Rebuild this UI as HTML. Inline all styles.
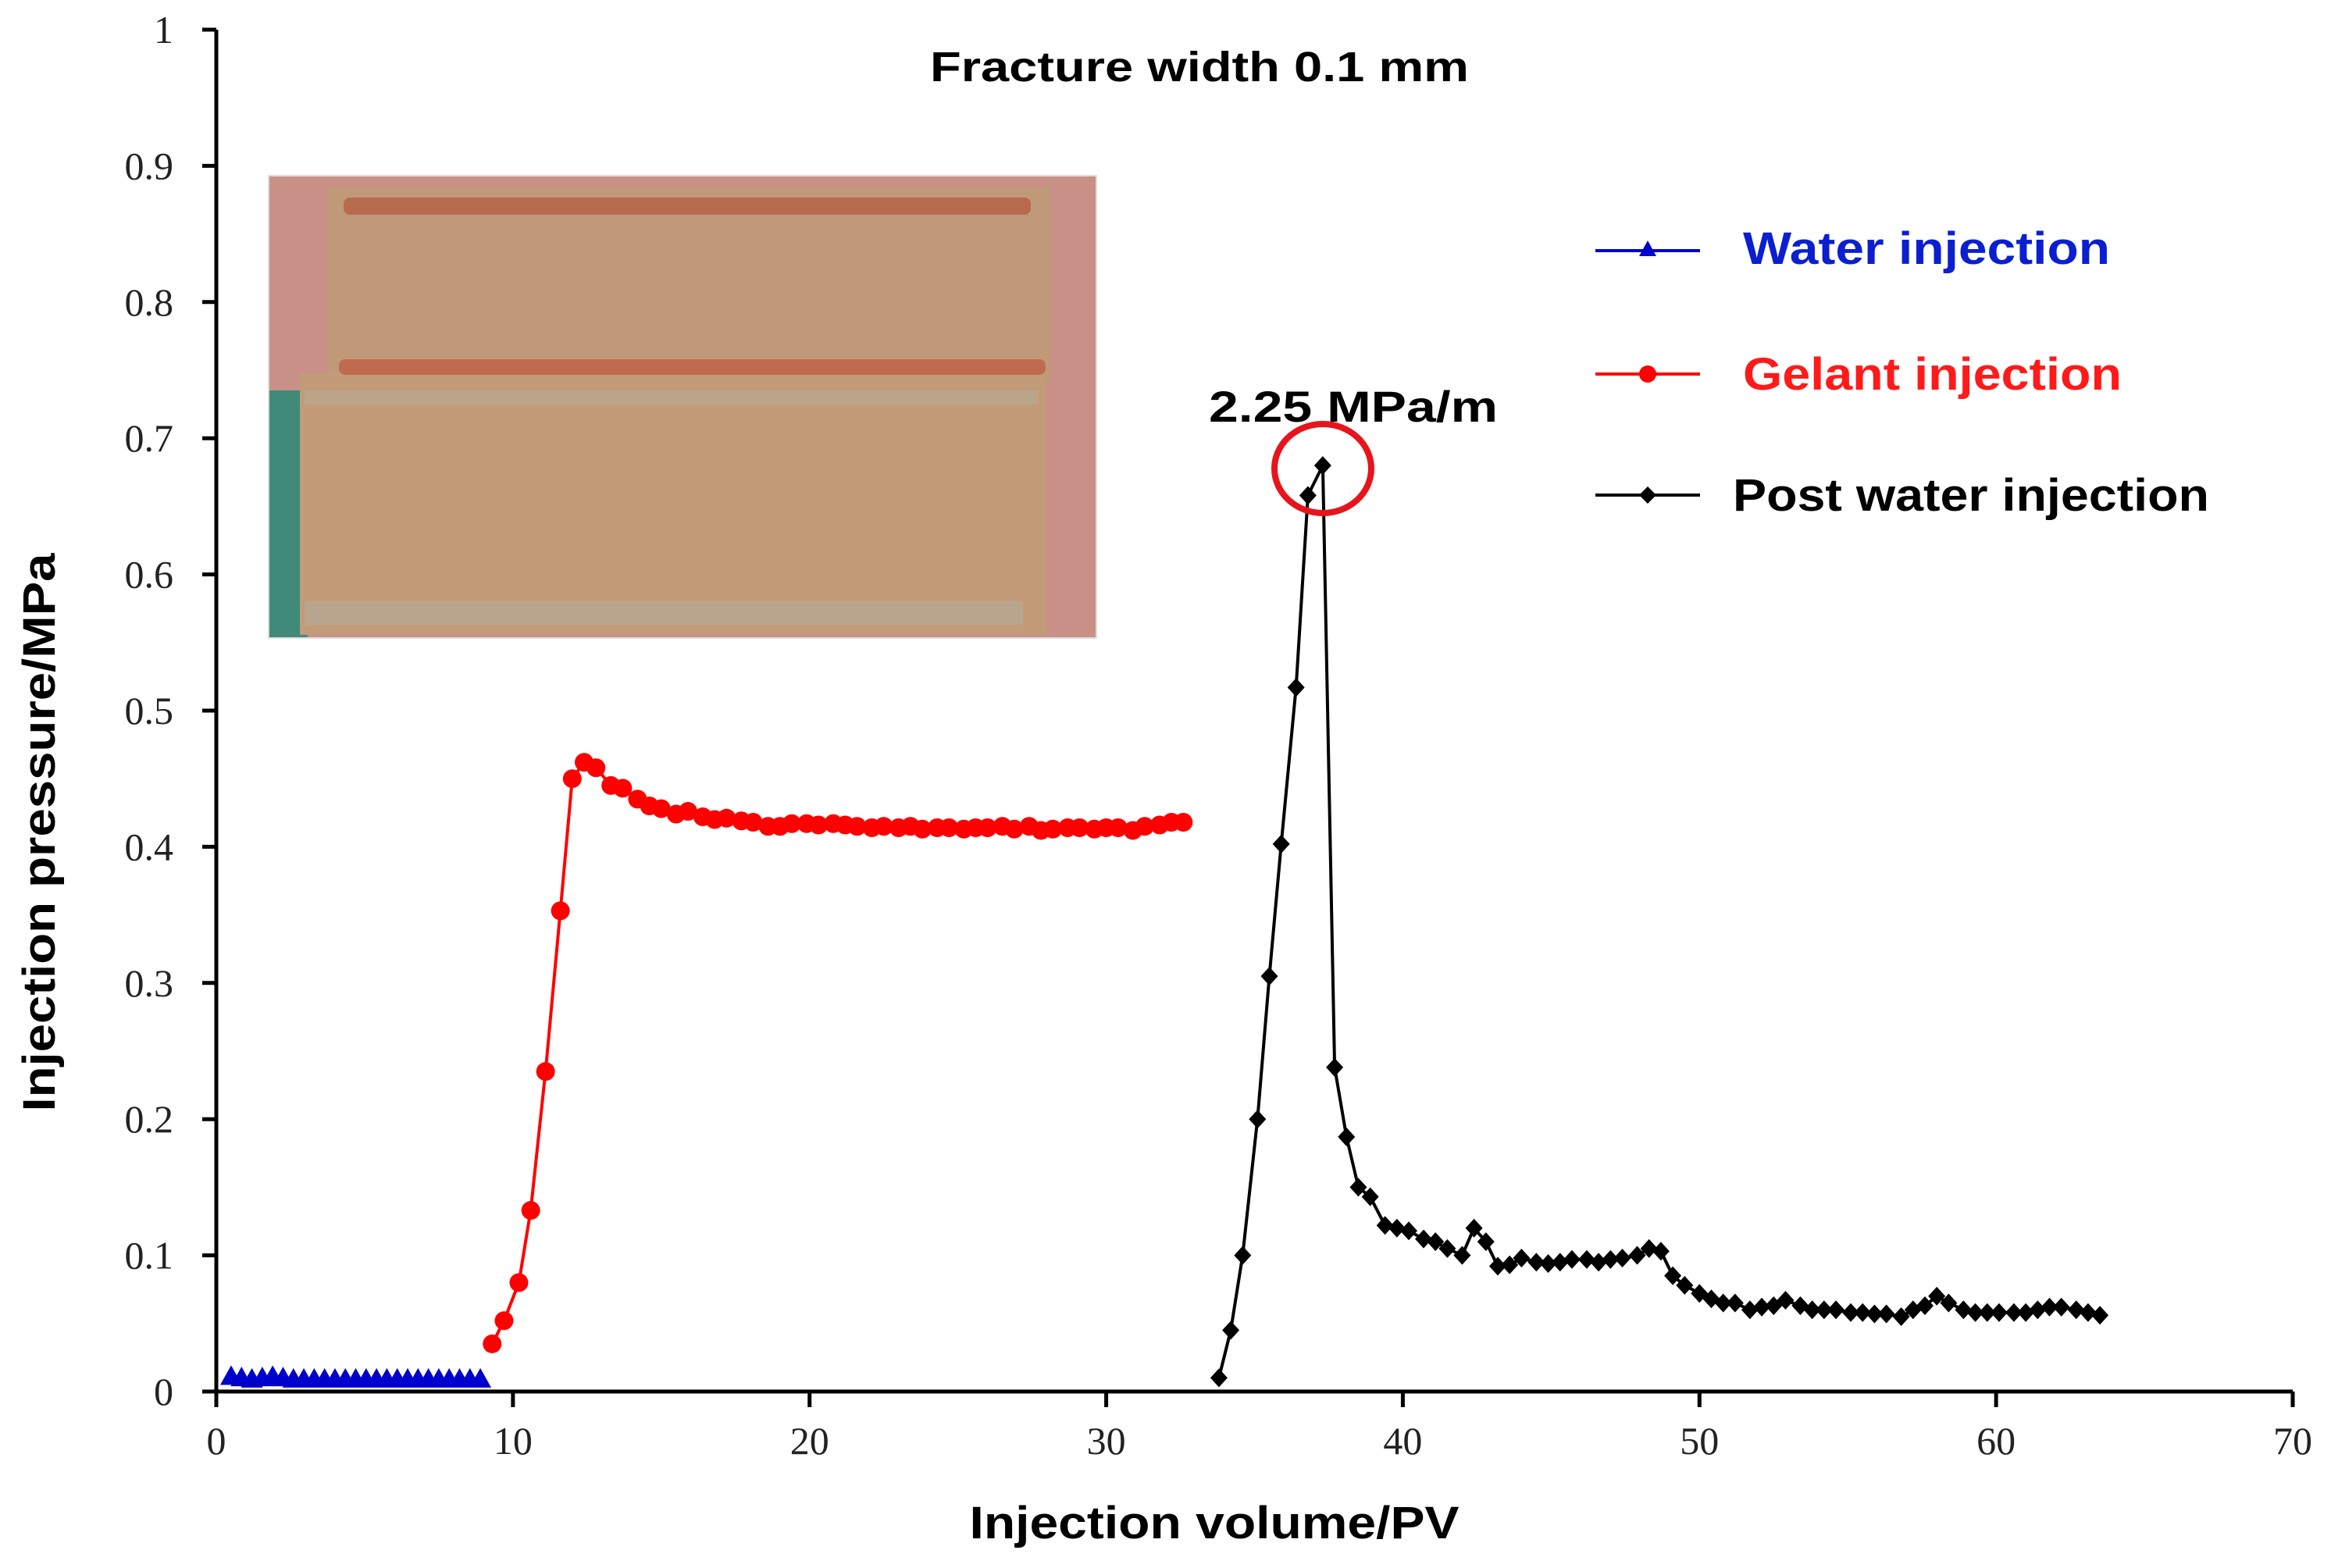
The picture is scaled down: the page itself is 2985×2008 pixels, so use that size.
<!DOCTYPE html>
<html><head><meta charset="utf-8"><style>
html,body{margin:0;padding:0;background:#fff;}
svg{display:block;}
</style></head><body>
<svg id="chart" width="2985" height="2008" viewBox="0 0 2985 2008" xmlns="http://www.w3.org/2000/svg">
<rect width="2985" height="2008" fill="#fff"/>
<g id="photo">
  <rect x="344" y="225" width="1060" height="592" fill="#c99088"/>
  <rect x="344" y="500" width="50" height="317" fill="#3f8a78"/>
  <rect x="420" y="240" width="925" height="250" fill="#c09a78"/>
  <rect x="384" y="478" width="955" height="335" fill="#c29b79"/>
  <rect x="440" y="253" width="880" height="22" rx="8" fill="#b86a4e"/>
  <rect x="434" y="460" width="905" height="20" rx="8" fill="#c06a52"/>
  <rect x="390" y="500" width="940" height="18" fill="#bba58a"/>
  <rect x="390" y="770" width="920" height="30" fill="#b8a58e"/>
  <rect x="344" y="225" width="1060" height="592" fill="none" stroke="#ddd" stroke-width="2"/>
</g>
<g id="axes"></g>
<g id="series"></g>
<text x="1536" y="104" text-anchor="middle" font-family="Liberation Sans, sans-serif" font-weight="bold" font-size="54" textLength="690" lengthAdjust="spacingAndGlyphs">Fracture width 0.1 mm</text>
<text x="1555" y="1970" text-anchor="middle" font-family="Liberation Sans, sans-serif" font-weight="bold" font-size="58" textLength="627" lengthAdjust="spacingAndGlyphs">Injection volume/PV</text>
<text transform="translate(70,1066) rotate(-90)" text-anchor="middle" font-family="Liberation Sans, sans-serif" font-weight="bold" font-size="58" textLength="715" lengthAdjust="spacingAndGlyphs">Injection pressure/MPa</text>
<text x="1733" y="540" text-anchor="middle" font-family="Liberation Sans, sans-serif" font-weight="bold" font-size="56" textLength="370" lengthAdjust="spacingAndGlyphs">2.25 MPa/m</text>
<ellipse cx="1694" cy="600" rx="62" ry="57" fill="none" stroke="#e8141c" stroke-width="8"/>
<g id="legend">
  <g>
    <line x1="2043" y1="321" x2="2177" y2="321" stroke="#0000cc" stroke-width="4"/>
    <polygon points="2110,308 2121,328 2099,328" fill="#0000cc"/>
    <text x="2232" y="338" font-family="Liberation Sans, sans-serif" font-weight="bold" font-size="58" fill="#0b1fd0" textLength="470" lengthAdjust="spacingAndGlyphs">Water injection</text>
  </g>
  <g>
    <line x1="2043" y1="479" x2="2177" y2="479" stroke="#ff0000" stroke-width="4"/>
    <circle cx="2110" cy="479" r="11" fill="#ff0000"/>
    <text x="2232" y="499" font-family="Liberation Sans, sans-serif" font-weight="bold" font-size="58" fill="#ff1a1a" textLength="485" lengthAdjust="spacingAndGlyphs">Gelant injection</text>
  </g>
  <g>
    <line x1="2043" y1="634" x2="2177" y2="634" stroke="#000" stroke-width="4"/>
    <polygon points="2110,623 2121,634 2110,645 2099,634" fill="#000"/>
    <text x="2219" y="654" font-family="Liberation Sans, sans-serif" font-weight="bold" font-size="58" fill="#000" textLength="610" lengthAdjust="spacingAndGlyphs">Post water injection</text>
  </g>
</g>
</svg>
<script>
const xTicks = [0,10,20,30,40,50,60,70];
const yTicks = [0,0.1,0.2,0.3,0.4,0.5,0.6,0.7,0.8,0.9,1];
const yTickLabels = ["0","0.1","0.2","0.3","0.4","0.5","0.6","0.7","0.8","0.9","1"];
const waterX = [0.5,0.85,1.2,1.55,1.9,2.25,2.6,2.95,3.3,3.65,4.0,4.35,4.7,5.05,5.4,5.75,6.1,6.45,6.8,7.15,7.5,7.85,8.2,8.55,8.9];
const waterY = [0.01,0.009,0.008,0.009,0.01,0.009,0.008,0.008,0.008,0.008,0.008,0.008,0.008,0.008,0.008,0.008,0.008,0.008,0.008,0.008,0.008,0.008,0.008,0.008,0.008];
const gelX = [9.3,9.7,10.2,10.6,11.1,11.6,12.0,12.4,12.8,13.3,13.7,14.2,14.6,15.0,15.5,15.9,16.4,16.8,17.2,17.7,18.1,18.6,19.0,19.4,19.9,20.3,20.8,21.2,21.6,22.1,22.5,23.0,23.4,23.8,24.3,24.7,25.2,25.6,26.0,26.5,26.9,27.4,27.8,28.2,28.7,29.1,29.6,30.0,30.4,30.9,31.3,31.8,32.2,32.6];
const gelY = [0.035,0.052,0.08,0.133,0.235,0.353,0.45,0.462,0.458,0.445,0.443,0.435,0.43,0.428,0.424,0.426,0.422,0.42,0.421,0.419,0.418,0.415,0.415,0.417,0.417,0.416,0.417,0.416,0.415,0.414,0.415,0.414,0.415,0.413,0.414,0.414,0.413,0.414,0.414,0.415,0.413,0.415,0.412,0.413,0.414,0.414,0.413,0.414,0.414,0.412,0.415,0.416,0.418,0.418];
const postX = [33.8,34.2,34.6,35.1,35.5,35.9,36.4,36.8,37.3,37.7,38.1,38.5,38.9,39.4,39.8,40.2,40.7,41.1,41.5,42.0,42.4,42.8,43.2,43.6,44.0,44.5,44.9,45.3,45.7,46.2,46.6,47.0,47.4,47.9,48.3,48.7,49.1,49.5,50.0,50.4,50.8,51.2,51.7,52.1,52.5,52.9,53.4,53.8,54.2,54.6,55.1,55.5,55.9,56.3,56.8,57.2,57.6,58.0,58.4,58.9,59.3,59.7,60.1,60.6,61.0,61.4,61.8,62.2,62.7,63.1,63.5];
const postY = [0.01,0.045,0.1,0.2,0.305,0.402,0.517,0.658,0.68,0.238,0.187,0.15,0.143,0.122,0.12,0.118,0.112,0.11,0.105,0.1,0.12,0.11,0.092,0.093,0.098,0.095,0.094,0.095,0.097,0.097,0.095,0.097,0.098,0.1,0.105,0.103,0.085,0.078,0.072,0.068,0.065,0.065,0.06,0.062,0.063,0.067,0.063,0.06,0.06,0.06,0.058,0.058,0.057,0.057,0.055,0.06,0.063,0.07,0.065,0.06,0.058,0.058,0.058,0.058,0.058,0.06,0.062,0.062,0.06,0.058,0.056];

const NS = "http://www.w3.org/2000/svg";
const X0 = 277, X1 = 2936, Y0 = 1782, Y1 = 38;
function sx(v){ return X0 + (v - 0) / 70 * (X1 - X0); }
function sy(v){ return Y0 - v * (Y0 - Y1); }
function mk(tag, attrs, parent){
  const e = document.createElementNS(NS, tag);
  for (const k in attrs) e.setAttribute(k, attrs[k]);
  parent.appendChild(e);
  return e;
}
const axes = document.getElementById('axes');
const yAxis = mk('line', {x1:X0, y1:Y0, x2:X0, y2:Y1, stroke:'#000', 'stroke-width':5}, axes);


const xAxis = mk('line', {x1:X0-18, y1:Y0, x2:X1, y2:Y0, stroke:'#000', 'stroke-width':5}, axes);


yTicks.forEach((v, i) => {
  const t = mk('line', {x1:X0-18, y1:sy(v), x2:X0, y2:sy(v), stroke:'#000', 'stroke-width':5}, axes);
  
  
  const l = mk('text', {x:X0-55, y:sy(v)+17, 'text-anchor':'end', 'font-family':'Liberation Serif, serif', 'font-size':50, fill:'#222'}, axes);
  l.textContent = yTickLabels[i];
  
  
});
xTicks.forEach(v => {
  const t = mk('line', {x1:sx(v), y1:Y0, x2:sx(v), y2:Y0+20, stroke:'#000', 'stroke-width':5}, axes);
  
  
  const l = mk('text', {x:sx(v), y:Y0+80, 'text-anchor':'middle', 'font-family':'Liberation Serif, serif', 'font-size':50, fill:'#222'}, axes);
  l.textContent = String(v);
  
  
});
const series = document.getElementById('series');
function drawSeries(xs, ys, color, marker, name){
  const g = mk('g', {}, series);
  
  
  const pts = xs.map((x, i) => sx(x).toFixed(1) + ',' + sy(ys[i]).toFixed(1)).join(' ');
  const pl = mk('polyline', {points:pts, fill:'none', stroke:color, 'stroke-width':4}, g);
  
  
  xs.forEach((x, i) => {
    const cx = sx(x), cy = sy(ys[i]);
    let m;
    if (marker === 'tri') m = mk('polygon', {points:`${cx},${cy-16} ${cx+14},${cy+9} ${cx-14},${cy+9}`, fill:color}, g);
    else if (marker === 'circle') m = mk('circle', {cx:cx, cy:cy, r:12, fill:color}, g);
    else m = mk('polygon', {points:`${cx},${cy-12} ${cx+11},${cy} ${cx},${cy+12} ${cx-11},${cy}`, fill:color}, g);
    
    
  });
}
drawSeries(waterX, waterY, '#0000cc', 'tri', 'water-injection-series');
drawSeries(gelX, gelY, '#ff0000', 'circle', 'gelant-injection-series');
drawSeries(postX, postY, '#000000', 'diamond', 'post-water-injection-series');
</script>
</body></html>
